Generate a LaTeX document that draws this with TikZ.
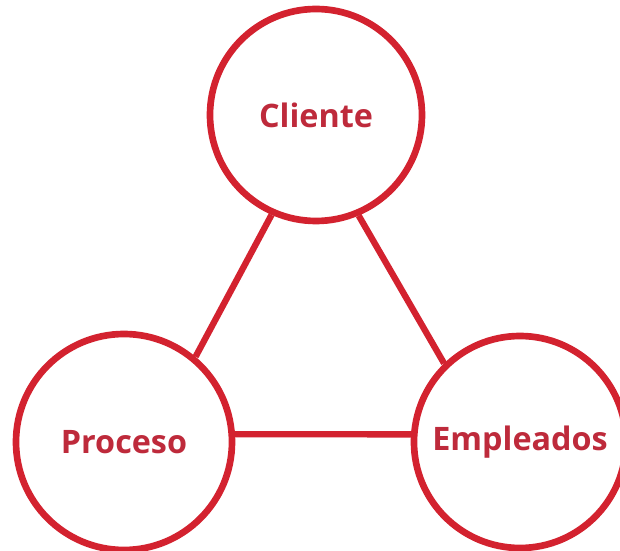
\documentclass[tikz,border=0pt]{standalone}
\usepackage{fontspec}
\setmainfont{Open Sans}
\usepackage{tikz}
\usetikzlibrary{shapes,positioning}

\definecolor{rojo}{HTML}{D3222F}
\definecolor{rojotexto}{HTML}{BE2A3B}

\begin{document}
\begin{tikzpicture}[
  bola/.style={draw=rojo, line width=1.9pt, circle, fill=white,
    font=\fontsize{9.2}{11}\selectfont\bfseries, text=rojotexto},
  enlace/.style={draw=rojo, line width=1.8pt}]
\useasboundingbox (0,0) rectangle (6.2,5.51);
\node[bola, minimum size=2.12cm] (cliente) at (3.16,4.36) {Cliente};
\node[bola, minimum size=2.16cm] (proceso) at (1.24,1.09) {Proceso};
\node[bola, minimum size=2.12cm] (empleados) at (5.20,1.09) {Empleados};
\draw[enlace] (cliente.246) -- (proceso.50);     % lado izquierdo
\draw[enlace] (cliente.293) -- (empleados.134);  % lado derecho
\draw[enlace] (proceso.4) -- (empleados.176);    % base
\end{tikzpicture}
\end{document}
